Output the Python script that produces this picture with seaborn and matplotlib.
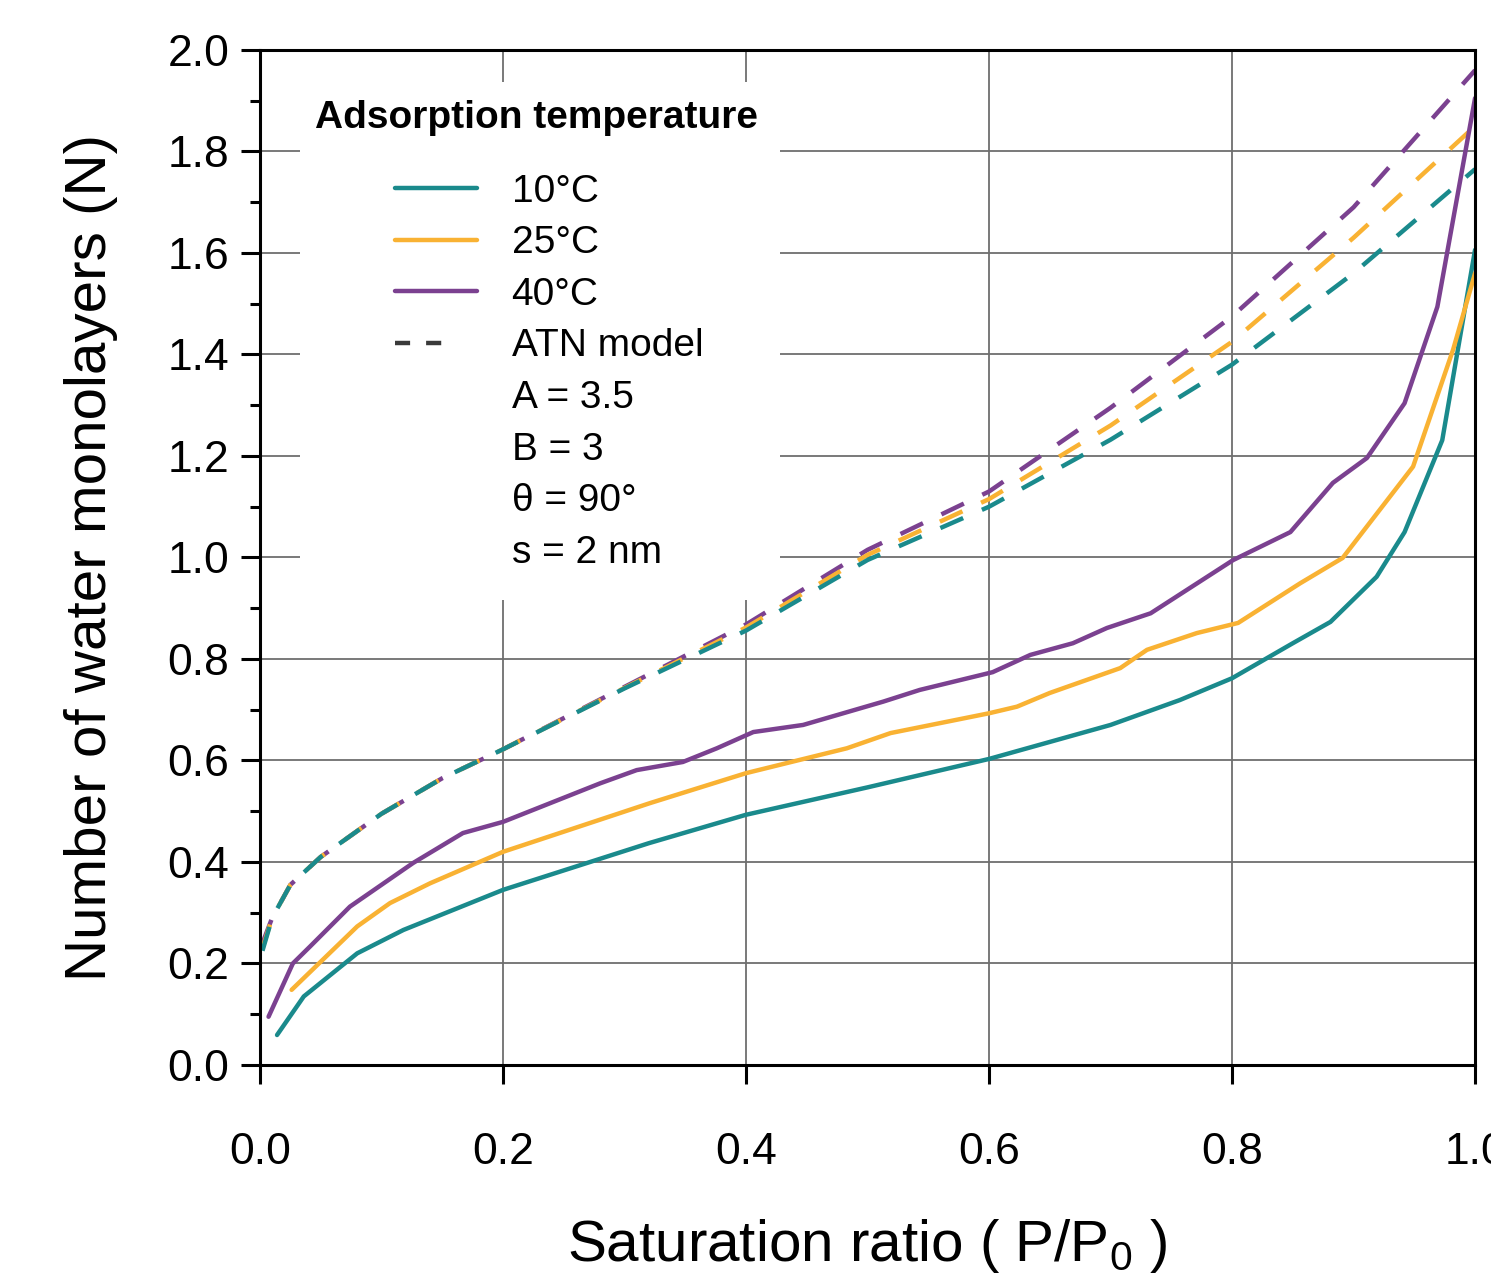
import numpy as np
import pandas as pd
import matplotlib
matplotlib.use('Agg')
import matplotlib.pyplot as plt
import seaborn as sns
from matplotlib.lines import Line2D
from matplotlib.patches import Rectangle

# Dữ liệu đo
x_10 = [0.014, 0.036, 0.080, 0.118, 0.200, 0.320, 0.400, 0.500, 0.600, 0.700,
        0.757, 0.800, 0.850, 0.881, 0.919, 0.942, 0.973, 1.000]
y_10 = [0.059, 0.135, 0.220, 0.266, 0.345, 0.437, 0.493, 0.547, 0.603, 0.670,
        0.719, 0.762, 0.831, 0.873, 0.962, 1.050, 1.231, 1.606]

x_25 = [0.026, 0.080, 0.107, 0.140, 0.200, 0.321, 0.400, 0.444, 0.483, 0.519,
        0.600, 0.623, 0.650, 0.708, 0.730, 0.771, 0.805, 0.856, 0.891, 0.949,
        0.982, 1.000]
y_25 = [0.148, 0.273, 0.319, 0.358, 0.420, 0.516, 0.575, 0.601, 0.624, 0.654,
        0.693, 0.706, 0.733, 0.782, 0.818, 0.851, 0.871, 0.949, 0.999, 1.179,
        1.410, 1.560]

x_40 = [0.007, 0.027, 0.041, 0.074, 0.126, 0.167, 0.200, 0.280, 0.310, 0.348,
        0.376, 0.406, 0.447, 0.513, 0.543, 0.603, 0.634, 0.669, 0.697, 0.733,
        0.801, 0.848, 0.883, 0.911, 0.942, 0.969, 1.000]
y_40 = [0.095, 0.200, 0.233, 0.312, 0.398, 0.457, 0.479, 0.555, 0.581, 0.597,
        0.624, 0.656, 0.670, 0.716, 0.739, 0.774, 0.808, 0.831, 0.861, 0.890,
        0.995, 1.050, 1.147, 1.196, 1.304, 1.494, 1.905]

# Mô hình ATN (đường nét đứt)
x_atn = [0.002, 0.010, 0.025, 0.050, 0.100, 0.150, 0.200, 0.300, 0.400,
         0.500, 0.600, 0.700, 0.800, 0.900, 1.000]
atn_10 = [0.225, 0.290, 0.355, 0.410, 0.495, 0.565, 0.622, 0.742, 0.856,
          0.995, 1.100, 1.232, 1.380, 1.560, 1.765]
atn_25 = [0.230, 0.290, 0.355, 0.410, 0.495, 0.565, 0.622, 0.743, 0.862,
          1.005, 1.115, 1.260, 1.425, 1.630, 1.850]
atn_40 = [0.240, 0.290, 0.355, 0.410, 0.495, 0.565, 0.622, 0.745, 0.868,
          1.015, 1.130, 1.295, 1.475, 1.690, 1.960]

labels = ['10°C', '25°C', '40°C']
colors = ['#1a8a8c', '#f9b233', '#7b4190']
params = ['A = 3.5', 'B = 3', 'θ = 90°', 's = 2 nm']

sns.set_style('white')
plt.rcParams['font.family'] = ['Liberation Sans', 'DejaVu Sans']
plt.rcParams['mathtext.fontset'] = 'custom'
plt.rcParams['mathtext.rm'] = 'Liberation Sans'
plt.rcParams['mathtext.it'] = 'Liberation Sans:italic'
for k in ['text.color', 'axes.labelcolor', 'xtick.color', 'ytick.color']:
    plt.rcParams[k] = 'black'

fig = plt.figure(figsize=(14.91, 12.78), dpi=100)
ax = fig.add_axes([0.1744, 0.1667, 0.8149, 0.7942])

lw = 3.2
atn_all = [atn_10, atn_25, atn_40]
for i in [2, 1, 0]:
    sns.lineplot(x=x_atn, y=atn_all[i], color=colors[i], lw=lw,
                 ax=ax, sort=False, estimator=None)
    ax.lines[-1].set_linestyle((0, (5.6, 4.6)))
for xs, ys, c in [(x_10, y_10, colors[0]), (x_25, y_25, colors[1]), (x_40, y_40, colors[2])]:
    sns.lineplot(x=xs, y=ys, color=c, lw=lw, ax=ax, sort=False, estimator=None)

ax.set_xlim(0, 1)
ax.set_ylim(0, 2)
ax.set_xticks(np.arange(0, 1.01, 0.2))
ax.set_yticks(np.arange(0, 2.01, 0.2))
ax.set_yticks(np.arange(0, 2.01, 0.1), minor=True)
ax.xaxis.set_major_formatter(matplotlib.ticker.FormatStrFormatter('%.1f'))
ax.yaxis.set_major_formatter(matplotlib.ticker.FormatStrFormatter('%.1f'))
ax.grid(True, which='major', color='#6e6e6e', lw=1.3)
ax.set_axisbelow(True)
ax.tick_params(axis='both', which='major', direction='out', length=14, width=2.2,
               labelsize=32, color='black', left=True, bottom=True)
ax.tick_params(axis='y', which='minor', direction='out', length=7, width=2.2, left=True)
ax.tick_params(axis='x', pad=34)
ax.tick_params(axis='y', pad=8)
for s in ax.spines.values():
    s.set_visible(True)
    s.set_color('black')
    s.set_linewidth(2.2)

ax.set_xlabel(r'Saturation ratio ( P/P$_{0}$ )', fontsize=42, labelpad=32)
ax.set_ylabel('Number of water monolayers (N)', fontsize=42, labelpad=36)

# Nền trắng cho chú thích
ax.add_patch(Rectangle((0.033, 0.458), 0.395, 0.51, transform=ax.transAxes,
                       facecolor='white', edgecolor='none', zorder=1))
ax.text(0.045, 0.933, 'Adsorption temperature', transform=ax.transAxes,
        fontsize=28, fontweight='bold', va='center', ha='left', zorder=5)

handles = [Line2D([], [], color=c, lw=lw) for c in colors]
handles.append(Line2D([], [], color='#3a3a3a', lw=lw, ls=(0, (3.4, 3.6, 3.4, 20))))
handles += [Line2D([], [], color='none') for _ in params]
leg = ax.legend(handles, labels + ['ATN model'] + params, loc='upper left',
                bbox_to_anchor=(0.111, 0.878), frameon=False, fontsize=28,
                handlelength=2.1, handletextpad=0.9, labelspacing=0.4,
                borderpad=0, borderaxespad=0)
leg.set_zorder(5)

fig.savefig('out.png', dpi=100)
